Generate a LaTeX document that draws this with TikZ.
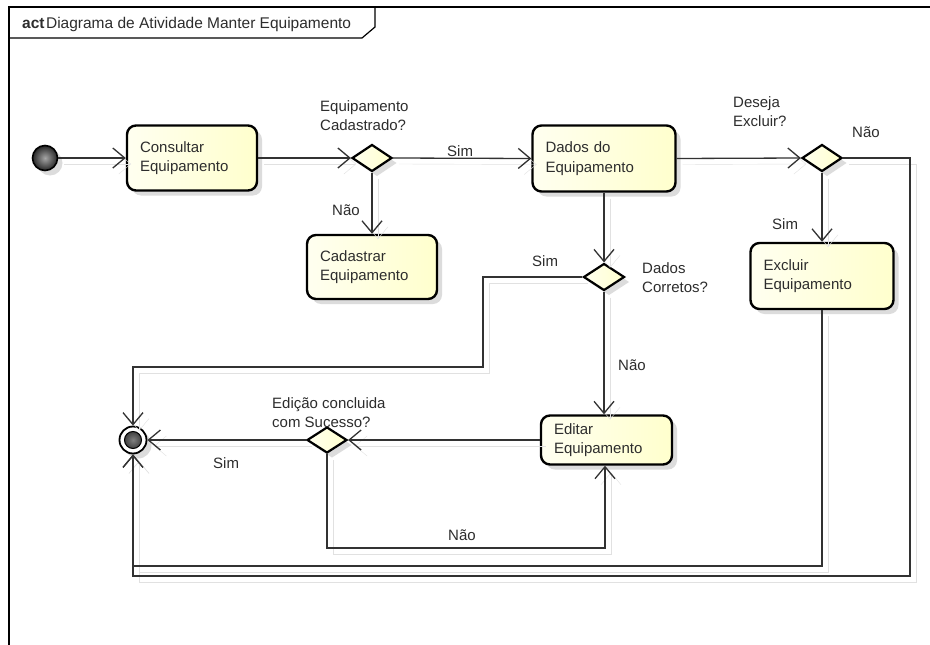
\documentclass[tikz,border=0pt]{standalone}
\usepackage{fontspec}
\setmainfont{Liberation Sans}
\usetikzlibrary{arrows.meta,shapes.geometric,shadows}

\definecolor{actfill}{RGB}{255,255,205}
\definecolor{actlight}{RGB}{255,255,240}
\definecolor{wire}{RGB}{50,50,50}
\definecolor{wireshadow}{RGB}{225,225,225}
\definecolor{txt}{RGB}{45,45,45}

\tikzset{
  lbl/.style={font=\fontsize{15}{19.5}\selectfont, text=txt, inner sep=0pt, anchor=north west, align=left},
  softshadow/.style={drop shadow={shadow xshift=5pt, shadow yshift=-5pt, fill=black!30, opacity=.45}},
  action/.style={draw=black, line width=2.4pt, rounded corners=9pt,
    left color=actlight, right color=actfill, softshadow,
    font=\fontsize{15}{19.5}\selectfont, text=txt, inner xsep=13pt, inner ysep=0pt, align=left},
  decision/.style={diamond, draw=black, line width=2.2pt, left color=actlight, right color=actfill,
    softshadow, minimum width=40pt, minimum height=27pt, inner sep=0pt},
  initialnode/.style={circle, draw=black, line width=1.6pt, minimum size=25pt, inner sep=0pt,
    inner color=gray!70, outer color=black!85, softshadow},
  finalnode/.style={circle, draw=black, line width=1.8pt, minimum size=27pt, inner sep=0pt,
    fill=white, softshadow,
    path picture={\shade[inner color=black!50, outer color=black!90]
      (path picture bounding box.center) circle (8.5pt);
      \draw[black, line width=1pt] (path picture bounding box.center) circle (8.5pt);}},
  flow/.style={draw=wire, line width=1.3pt,
    -{Straight Barb[length=12pt, width=20pt, line width=1.3pt]},
    preaction={draw=wireshadow, transform canvas={shift={(6pt,-6pt)}}}},
}

\begin{document}
\begin{tikzpicture}[x=1pt, y=-1pt]
  \fill[white] (0,0) rectangle (930,645);
  \useasboundingbox (0,0) rectangle (930,645);

  % diagram frame and its name tab
  \draw[black, line width=1.2pt] (9,645) -- (9,7) -- (930,7);
  \draw[black, line width=1.2pt] (9,38) -- (362,38) -- (375,27) -- (375,7);
  \node[anchor=base west, inner sep=0pt, font=\fontsize{15.5}{17}\selectfont, text=txt]
    (title) at (22,28.5) {\textbf{act}\hspace{1.5pt}Diagrama de Atividade Manter Equipamento};

  % nodes
  \node[initialnode] (start) at (45,158) {};
  \node[action, text width=104pt, minimum height=65pt] (consultar) at (192,158) {Consultar\\Equipamento};
  \node[decision] (d1) at (372,158) {};
  \node[action, text width=104pt, minimum height=64pt] (cadastrar) at (372,267) {Cadastrar\\Equipamento};
  \node[action, text width=117pt, minimum height=66pt] (dados) at (604,158.5) {Dados do\\Equipamento};
  \node[decision] (d3) at (822,158) {};
  \node[action, text width=117pt, minimum height=66pt] (excluir) at (822,276) {Excluir\\Equipamento};
  \node[decision, minimum width=41pt] (d2) at (604,277) {};
  \node[action, text width=105pt, minimum height=49pt] (editar) at (606.5,440) {Editar\\Equipamento};
  \node[decision, minimum height=26pt] (d4) at (327,440) {};
  \node[finalnode] (final) at (133,440) {};

  % bend points
  \coordinate (rightrail) at (910,576);
  \coordinate (lowrail) at (133,566);
  \coordinate (simbend) at (483,367);
  \coordinate (nobend) at (605,548);

  % control flows
  \draw[flow] (start.east) -- (consultar.west);
  \draw[flow] (consultar.east) -- (d1.west);
  \draw[flow] (d1.east) -- (dados.west);
  \draw[flow] (d1.south) -- (cadastrar.north);
  \draw[flow] (dados.east) -- (d3.west);
  \draw[flow] (d3.south) -- (excluir.north);
  \draw[flow] (d3.east) -| (rightrail) -| (final.south);
  \draw[flow] (excluir.south) |- (lowrail) -- (final.south);
  \draw[flow] (dados.south) -- (d2.north);
  \draw[flow] (d2.west) -| (simbend) -| (final.north);
  \draw[flow] (d2.south) -- (d2.south |- editar.north);
  \draw[flow] (editar.west) -- (d4.east);
  \draw[flow] (d4.west) -- (final.east);
  \draw[flow] (d4.south) |- (nobend) -- (nobend |- editar.south);

  % guard and decision labels
  \node[lbl] (q1) at (320,100) {Equipamento\\Cadastrado?};
  \node[lbl] (g1sim) at (447,145) {Sim};
  \node[lbl] (g1nao) at (332,205) {Não};
  \node[lbl] (q3) at (733,96) {Deseja\\Excluir?};
  \node[lbl] (g3nao) at (852,127) {Não};
  \node[lbl] (g3sim) at (772,218) {Sim};
  \node[lbl] (g2sim) at (532,255) {Sim};
  \node[lbl] (q2) at (642,262) {Dados\\Corretos?};
  \node[lbl] (g2nao) at (618,360) {Não};
  \node[lbl] (q4) at (272,397) {Edição concluida\\com Sucesso?};
  \node[lbl] (g4sim) at (213,457) {Sim};
  \node[lbl] (g4nao) at (448,530) {Não};
\end{tikzpicture}
\end{document}
